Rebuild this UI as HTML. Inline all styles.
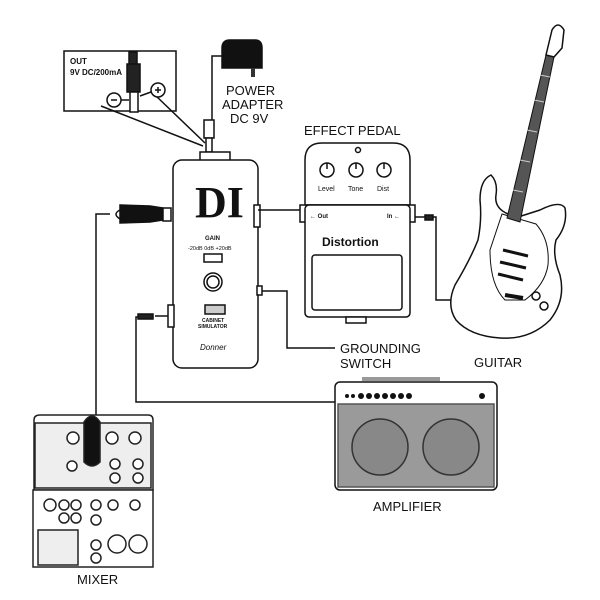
<!DOCTYPE html>
<html><head><style>
html,body{margin:0;padding:0;background:#fff;}
svg{display:block}
text{font-family:"Liberation Sans",sans-serif;}
</style></head><body>
<svg width="600" height="600" viewBox="0 0 600 600" xmlns="http://www.w3.org/2000/svg">
<g fill="none" stroke="#111" stroke-width="1.5">
<rect x="64" y="51" width="112" height="60" fill="#fff"/>
<path d="M101,106 L203,146 M155,95 L205,143"/>
<rect x="129" y="52" width="8" height="14" fill="#222"/>
<rect x="127" y="64" width="13" height="28" fill="#222"/>
<rect x="130" y="92" width="8" height="20" fill="#fff"/>
<circle cx="114" cy="100" r="7" fill="#fff"/>
<circle cx="158" cy="90" r="7" fill="#fff"/>
<path d="M111,100h6 M155,90h6 M158,87v6"/>
<path d="M121,100h8 M140,96l11,-4"/>
<path d="M222,68 V48 Q222,40 230,40 H255 Q262,40 262,48 V68 Z" fill="#111"/>
<rect x="251" y="68" width="4" height="9" fill="#333" stroke="none"/>
<path d="M222,56 H212 V120"/>
<rect x="204" y="120" width="10" height="18" fill="#fff"/>
<rect x="206" y="138" width="6" height="14" fill="#fff"/>
<rect x="200" y="152" width="30" height="9" fill="#fff"/>
<rect x="173" y="160" width="85" height="208" rx="9" fill="#fff"/>
<rect x="254" y="205" width="6" height="22" fill="#fff"/>
<rect x="168" y="305" width="6" height="22" fill="#fff"/>
<rect x="257" y="286" width="5" height="9" fill="#fff"/>
<circle cx="213" cy="282" r="9" fill="#fff"/>
<circle cx="213" cy="282" r="6"/>
<rect x="204" y="254" width="18" height="8" fill="#fff"/>
<rect x="205" y="305" width="20" height="9" fill="#ccc"/>
<path d="M120,205 L150,206 L163,208 L163,220 L150,222 L120,223 Z" fill="#111"/>
<rect x="163" y="208" width="8" height="13" fill="#fff"/>
<path d="M120,210 Q112,214 120,219 M110,214 H96 V425"/>
<path d="M168,316 H155"/>
<rect x="138" y="314" width="15" height="5" fill="#222"/>
<path d="M138,317 H136 V402 H335"/>
<path d="M258,210 H302"/>
<path d="M262,291 H287 V348 H335"/>
<path d="M305,160 Q305,143 322,143 H393 Q410,143 410,160 V205 H305 Z" fill="#fff"/>
<rect x="300" y="205" width="115" height="17" fill="#fff"/>
<rect x="305" y="205" width="105" height="112" rx="4" fill="#fff"/>
<rect x="312" y="255" width="90" height="55" rx="3" fill="#fff"/>
<rect x="346" y="317" width="20" height="6" fill="#fff"/>
<circle cx="358" cy="150" r="2.5"/>
<circle cx="327" cy="170" r="7" fill="#fff"/><path d="M327,163v6"/>
<circle cx="356" cy="170" r="7" fill="#fff"/><path d="M356,163v6"/>
<circle cx="384" cy="170" r="7" fill="#fff"/><path d="M384,163v6"/>
<path d="M415,217 H425"/>
<rect x="425" y="215" width="8" height="5" fill="#222"/>
<path d="M433,217 H436 V300 H452"/>
<path d="M491,175 Q498,182 496,195 Q494,208 508,214 L515,218 L540,210 Q560,200 565,208 Q568,225 556,240 Q552,255 560,275 Q566,300 550,320 Q530,340 500,338 Q470,336 456,320 Q446,305 455,285 Q470,260 478,240 Q482,220 480,200 Q480,180 491,175 Z" fill="#fff"/>
<path d="M502,214 L536,224 Q550,240 548,265 Q545,285 525,300 L505,300 Q490,285 490,250 Z" fill="#fff" stroke-width="1"/>
<path d="M507,218 L546,55 L554,57 L520,222 Z" fill="#555" stroke-width="1"/>
<path d="M513,190 L523,192 M520,160 L530,162 M527,130 L537,132 M534,100 L544,102 M540,75 L550,77" stroke="#ccc" stroke-width="1"/>
<path d="M546,55 L552,30 Q558,20 564,30 L562,48 L554,57 Z" fill="#fff"/>
<path d="M503,250 L528,256 M500,262 L526,268 M498,274 L523,280" stroke-width="3"/>
<path d="M505,295 L523,298" stroke-width="4"/>
<circle cx="536" cy="296" r="4"/><circle cx="544" cy="306" r="4"/>
<rect x="362" y="377" width="78" height="4" fill="#999" stroke="none"/>
<rect x="335" y="382" width="162" height="108" rx="5" fill="#fff"/>
<rect x="338" y="404" width="156" height="83" fill="#9a9a9a" stroke="#555"/>
<circle cx="380" cy="447" r="28" fill="#888" stroke="#333"/>
<circle cx="451" cy="447" r="28" fill="#888" stroke="#333"/>
</g>
<g fill="#111">
<circle cx="347" cy="396" r="2"/><circle cx="353" cy="396" r="2"/>
<circle cx="361" cy="396" r="3"/><circle cx="369" cy="396" r="3"/><circle cx="377" cy="396" r="3"/><circle cx="385" cy="396" r="3"/><circle cx="393" cy="396" r="3"/><circle cx="401" cy="396" r="3"/><circle cx="409" cy="396" r="3"/><circle cx="482" cy="396" r="3"/>
</g>
<g fill="none" stroke="#222" stroke-width="1.5">
<path d="M34,420 Q34,415 40,415 H148 Q153,415 153,420 V490 H34 Z" fill="#fff"/>
<rect x="35" y="423" width="116" height="65" fill="#eee"/>
<rect x="33" y="490" width="120" height="77" fill="#fff"/>
<rect x="38" y="530" width="40" height="35" fill="#eee"/>
<g fill="#fff">
<circle cx="73" cy="438" r="6"/><circle cx="112" cy="438" r="6"/><circle cx="135" cy="438" r="6"/>
<circle cx="72" cy="466" r="5"/><circle cx="115" cy="464" r="5"/><circle cx="138" cy="464" r="5"/><circle cx="115" cy="478" r="5"/><circle cx="138" cy="478" r="5"/>
<circle cx="50" cy="505" r="6"/><circle cx="64" cy="505" r="5"/><circle cx="76" cy="505" r="5"/><circle cx="64" cy="518" r="5"/><circle cx="76" cy="518" r="5"/>
<circle cx="96" cy="505" r="5"/><circle cx="96" cy="520" r="5"/><circle cx="96" cy="545" r="5"/><circle cx="96" cy="558" r="5"/>
<circle cx="113" cy="505" r="5"/><circle cx="135" cy="505" r="5"/>
<circle cx="117" cy="544" r="9"/><circle cx="138" cy="544" r="9"/>
</g>
<path d="M84,422 Q92,410 100,422 L100,462 Q92,470 84,462 Z" fill="#111"/>
</g>
<g fill="#111">
<text x="70" y="64" font-size="8" font-weight="bold">OUT</text>
<text x="70" y="75" font-size="8" font-weight="bold">9V DC/200mA</text>
<text x="226" y="95" font-size="13">POWER</text>
<text x="222" y="109" font-size="13">ADAPTER</text>
<text x="230" y="123" font-size="13">DC 9V</text>
<text x="304" y="135" font-size="13">EFFECT PEDAL</text>
<text x="195" y="217" style="font-family:'Liberation Serif',serif;font-size:44px;font-weight:bold">DI</text>
<text x="205" y="240" font-size="6" font-weight="bold">GAIN</text>
<text x="188" y="250" font-size="5.5">-20dB  0dB  +20dB</text>
<text x="202" y="322" font-size="5" font-weight="bold">CABINET</text>
<text x="198" y="328" font-size="5" font-weight="bold">SIMULATOR</text>
<text x="200" y="350" font-size="8" font-style="italic">Donner</text>
<text x="318" y="191" font-size="7">Level</text>
<text x="348" y="191" font-size="7">Tone</text>
<text x="377" y="191" font-size="7">Dist</text>
<text x="310" y="218" font-size="6" font-weight="bold">← Out</text>
<text x="387" y="218" font-size="6" font-weight="bold">In ←</text>
<text x="322" y="246" font-size="12" font-weight="bold">Distortion</text>
<text x="340" y="353" font-size="13">GROUNDING</text>
<text x="340" y="368" font-size="13">SWITCH</text>
<text x="474" y="367" font-size="13">GUITAR</text>
<text x="373" y="511" font-size="13">AMPLIFIER</text>
<text x="77" y="584" font-size="13">MIXER</text>
</g>
</svg>
</body></html>
